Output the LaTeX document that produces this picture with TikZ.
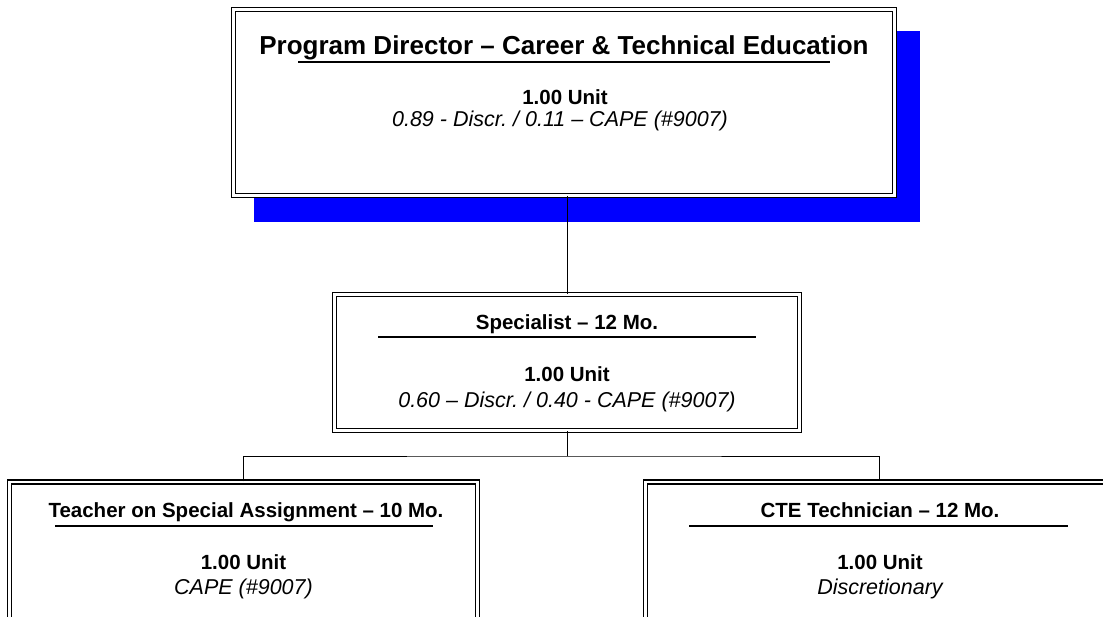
\documentclass[tikz,border=0pt]{standalone}
\usepackage{fontspec}
\setmainfont{Liberation Sans}
\frenchspacing
\tikzset{
  post/.style = {draw, double, double distance = 2.3pt, line width = 1.5pt, fill = white, inner sep = 0pt},
  bigtitle/.style = {anchor = base, font = \bfseries\fontsize{26}{30}\selectfont},
  posttitle/.style = {anchor = base, font = \bfseries\fontsize{20.5}{24}\selectfont},
  unit/.style = {anchor = base, font = \bfseries\fontsize{20.5}{24}\selectfont},
  fund/.style = {anchor = base, font = \itshape\fontsize{21.5}{24}\selectfont},
  rule/.style = {line width = 1.2pt},
  link/.style = {line width = 1pt}
}
\begin{document}
\begin{tikzpicture}[x = 1pt, y = -1pt]
\clip (0,0) rectangle (1103,617);
\fill[white] (0,0) rectangle (1103,617);

% director with its shadow
\fill[blue] (254,31) rectangle (920,222);
\node[post, minimum width = 661pt, minimum height = 186pt] (dir) at (564,102.5) {};
\node[bigtitle] (dirT) at (564,55) {Program Director – Career \& Technical Education};
\draw[rule] (298,62) -- (830,62);
\node[unit] (dirU) at (565,105) {1.00 Unit};
\node[fund] (dirF) at (560,127) {0.89 - Discr. / 0.11 – CAPE (\#9007)};

% specialist
\node[post, minimum width = 465pt, minimum height = 136pt] (spec) at (567,362.5) {};
\node[posttitle] (specT) at (567,330) {Specialist – 12 Mo.};
\draw[rule] (378,337) -- (756,337);
\node[unit] (specU) at (567,382) {1.00 Unit};
\node[fund] (specF) at (567,407) {0.60 – Discr. / 0.40 - CAPE (\#9007)};

% bottom row
\node[post, minimum width = 468pt, minimum height = 170pt] (tosa) at (243.5,567) {};
\node[posttitle] (tosaT) at (246,517) {Teacher on Special Assignment – 10 Mo.};
\draw[rule] (55,526) -- (433,526);
\node[unit] (tosaU) at (243.5,569) {1.00 Unit};
\node[fund] (tosaF) at (243.5,594) {CAPE (\#9007)};

\node[post, minimum width = 468pt, minimum height = 170pt] (tech) at (879.5,567) {};
\node[posttitle] (techT) at (880,517) {CTE Technician – 12 Mo.};
\draw[rule] (689,526) -- (1068,526);
\node[unit] (techU) at (880,569) {1.00 Unit};
\node[fund] (techF) at (880,594) {Discretionary};

% reporting lines
\coordinate (bus) at (567,456);
\draw[link] (spec.north |- dir.south) -- (spec.north);
\draw[link] (spec.south) -- (bus);
\draw[link] (tosa.north) |- (bus) -| (tech.north);
\end{tikzpicture}
\end{document}
